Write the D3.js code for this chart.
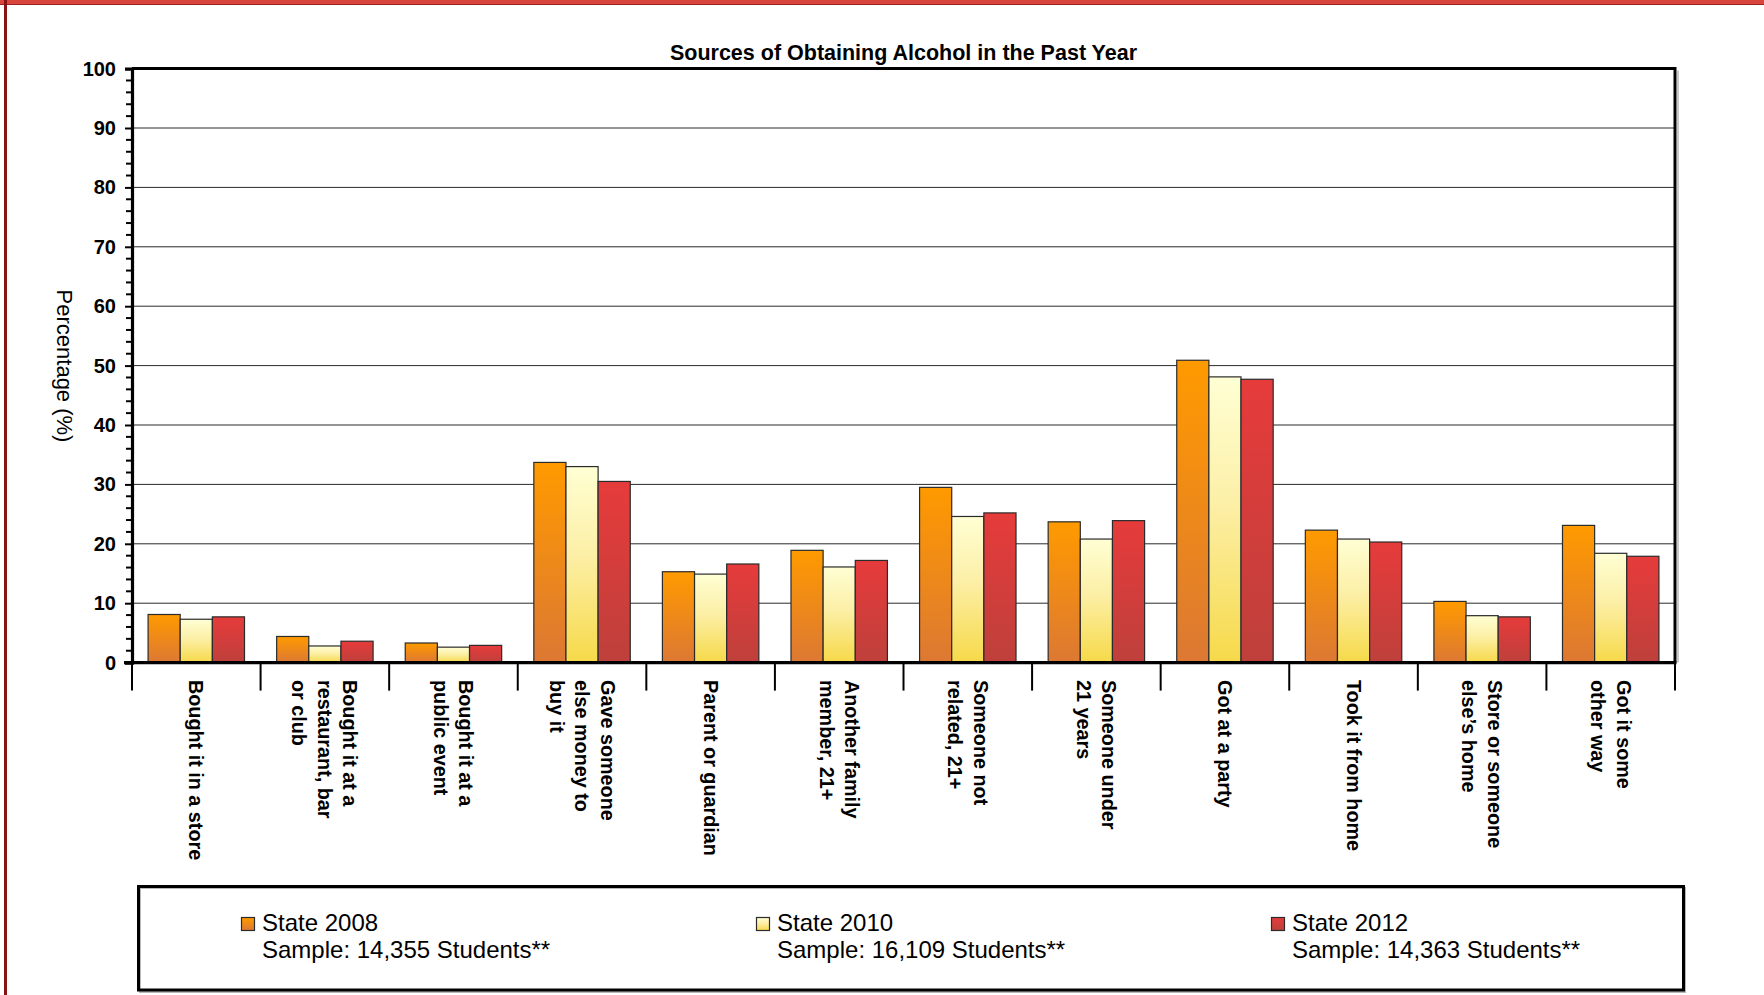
<!DOCTYPE html>
<html>
<head>
<meta charset="utf-8">
<script src="https://cdn.jsdelivr.net/npm/d3@7"></script>
<style>
  html, body { margin: 0; padding: 0; background: #fff; }
  svg { display: block; }
</style>
</head>
<body>
<svg id="chart" width="1764" height="995"></svg>
<script>
// ---- Data ----
const categories = [
  ["Bought it in a store"],
  ["Bought it at a", "restaurant, bar", "or club"],
  ["Bought it at a", "public event"],
  ["Gave someone", "else money to", "buy it"],
  ["Parent or guardian"],
  ["Another family", "member, 21+"],
  ["Someone not", "related, 21+"],
  ["Someone under", "21 years"],
  ["Got at a party"],
  ["Took it from home"],
  ["Store or someone", "else\u2019s home"],
  ["Got it some", "other way"]
];
const seriesNames = ["State 2008", "State 2010", "State 2012"];
const sampleLabels = ["Sample: 14,355 Students**", "Sample: 16,109 Students**", "Sample: 14,363 Students**"];
const values2008 = [8.1, 4.4, 3.3, 33.7, 15.3, 18.9, 29.5, 23.7, 50.9, 22.3, 10.3, 23.1];
const values2010 = [7.3, 2.8, 2.6, 33.0, 14.9, 16.1, 24.6, 20.8, 48.1, 20.8, 7.9, 18.4];
const values2012 = [7.7, 3.6, 2.9, 30.5, 16.6, 17.2, 25.2, 23.9, 47.7, 20.3, 7.7, 17.9];
const yTicks = [0, 10, 20, 30, 40, 50, 60, 70, 80, 90, 100];
const chartTitle = "Sources of Obtaining Alcohol in the Past Year";
const yTitle = "Percentage (%)";

const seriesValues = [values2008, values2010, values2012];

// ---- Layout ----
const svg = d3.select("#chart");
const font = "'Liberation Sans', Arial, Helvetica, sans-serif";
const plot = { left: 132, right: 1675, top: 68.6, bottom: 662.6 };

// gradients
const gradStops = [
  [["0%", "#FF9A00"], ["100%", "#DC7833"]],
  [["0%", "#FFFFD4"], ["45%", "#FCEFA6"], ["100%", "#F6D949"]],
  [["0%", "#E63B3B"], ["100%", "#BE403B"]]
];
const defs = svg.append("defs");
gradStops.forEach((stops, i) => {
  const g = defs.append("linearGradient").attr("id", "grad" + i)
    .attr("x1", 0).attr("y1", 0).attr("x2", 0).attr("y2", 1);
  stops.forEach(s => g.append("stop").attr("offset", s[0]).attr("stop-color", s[1]));
});

// page frame
svg.append("rect").attr("x", 0).attr("y", 0).attr("width", 1764).attr("height", 4.5).attr("fill", "#D8453D");
svg.append("line").attr("x1", 0).attr("x2", 1764).attr("y1", 4.5).attr("y2", 4.5).attr("stroke", "#9A2222").attr("stroke-width", 1);
svg.append("rect").attr("x", 4).attr("y", 0).attr("width", 3).attr("height", 995).attr("fill", "#861414");

// scales
const x = d3.scaleBand().domain(d3.range(categories.length)).range([plot.left, plot.right]).paddingInner(0).paddingOuter(0);
const xs = d3.scaleBand().domain(d3.range(seriesNames.length)).range([0, x.bandwidth()]).paddingInner(0).paddingOuter(0.5);
const y = d3.scaleLinear().domain([0, 100]).range([plot.bottom, plot.top]);

// gridlines
svg.append("g").selectAll("line").data(yTicks.filter(t => t > 0 && t < 100)).join("line")
  .attr("x1", plot.left).attr("x2", plot.right)
  .attr("y1", d => y(d)).attr("y2", d => y(d))
  .attr("stroke", "#2a2a2a").attr("stroke-width", 1);

// bars
const groups = svg.append("g").selectAll("g").data(categories).join("g")
  .attr("transform", (d, i) => `translate(${x(i)},0)`);
groups.selectAll("rect").data((d, i) => seriesValues.map((vals, s) => ({ s, v: vals[i] }))).join("rect")
  .attr("x", d => xs(d.s))
  .attr("width", xs.bandwidth())
  .attr("y", d => y(d.v))
  .attr("height", d => y(0) - y(d.v))
  .attr("fill", d => `url(#grad${d.s})`)
  .attr("stroke", "#2b2b2b").attr("stroke-width", 1.2);

// plot border shadow (right)
svg.append("line").attr("x1", plot.right + 3).attr("x2", plot.right + 3).attr("y1", plot.top + 2).attr("y2", plot.bottom)
  .attr("stroke", "#c8c8c8").attr("stroke-width", 2);

// top & right border
svg.append("path")
  .attr("d", `M${plot.left},${plot.top}H${plot.right}V${plot.bottom}`)
  .attr("fill", "none").attr("stroke", "#000").attr("stroke-width", 3);

// Y axis
const yAxis = d3.axisLeft(y).tickValues(yTicks).tickSize(7).tickPadding(9).tickFormat(d3.format("d"));
const yg = svg.append("g").attr("transform", `translate(${plot.left},0)`).call(yAxis);
yg.select(".domain").attr("stroke", "#000").attr("stroke-width", 3.2);
yg.selectAll(".tick line").attr("stroke", "#000").attr("stroke-width", 2);
yg.selectAll(".tick text").attr("font-family", font).attr("font-size", 20).attr("font-weight", "bold").attr("fill", "#000");
// minor ticks
svg.append("g").selectAll("line").data(d3.range(2, 100, 2).filter(v => v % 10 !== 0)).join("line")
  .attr("x1", plot.left - 6).attr("x2", plot.left)
  .attr("y1", d => y(d)).attr("y2", d => y(d))
  .attr("stroke", "#000").attr("stroke-width", 2);

// X axis (category separators)
svg.append("g").selectAll("line").data(d3.range(categories.length + 1)).join("line")
  .attr("x1", i => i < categories.length ? x(i) : plot.right)
  .attr("x2", i => i < categories.length ? x(i) : plot.right)
  .attr("y1", plot.bottom).attr("y2", plot.bottom + 28)
  .attr("stroke", "#000").attr("stroke-width", 2);
svg.append("line").attr("x1", plot.left - 8).attr("x2", plot.right + 1.5)
  .attr("y1", plot.bottom).attr("y2", plot.bottom)
  .attr("stroke", "#000").attr("stroke-width", 3.2);

// category labels (rotated)
const lh = 25.5, catFs = 19.8;
const labels = svg.append("g").selectAll("text").data(categories).join("text")
  .attr("transform", (d, i) => `translate(${x(i) + x.bandwidth() / 2},680) rotate(90)`)
  .attr("font-family", font).attr("font-size", catFs).attr("font-weight", "bold").attr("fill", "#000");
labels.each(function (lines) {
  const t = d3.select(this);
  const n = lines.length;
  lines.forEach((ln, k) => {
    t.append("tspan").attr("x", 0).attr("y", (k - (n - 1) / 2) * lh + 0.35 * catFs).text(ln);
  });
});

// title
svg.append("text").attr("x", (plot.left + plot.right) / 2).attr("y", 59.5)
  .attr("text-anchor", "middle").attr("font-family", font).attr("font-size", 21.5).attr("font-weight", "bold")
  .attr("fill", "#000").text(chartTitle);

// y title
svg.append("text").attr("transform", "translate(56.5,366) rotate(90)")
  .attr("text-anchor", "middle").attr("font-family", font).attr("font-size", 22)
  .attr("fill", "#000").text(yTitle);

// legend
const lg = svg.append("g");
lg.append("rect").attr("x", 140).attr("y", 888).attr("width", 1545).attr("height", 104)
  .attr("fill", "none").attr("stroke", "#b8b8b8").attr("stroke-width", 2);
lg.append("rect").attr("x", 138.5).attr("y", 886.5).attr("width", 1545).attr("height", 103.5)
  .attr("fill", "none").attr("stroke", "#000").attr("stroke-width", 3);
const legX = d3.scalePoint().domain(d3.range(seriesNames.length)).range([262, 1292]);
const items = lg.selectAll("g.item").data(seriesNames).join("g").attr("class", "item")
  .attr("transform", (d, i) => `translate(${legX(i)},0)`);
items.append("rect").attr("x", -20.5).attr("y", 917.5).attr("width", 13).attr("height", 13)
  .attr("fill", (d, i) => `url(#grad${i})`).attr("stroke", "#2b2b2b").attr("stroke-width", 1.2);
items.append("text").attr("x", 0).attr("y", 931).attr("font-family", font).attr("font-size", 24)
  .attr("fill", "#000").text(d => d);
items.append("text").attr("x", 0).attr("y", 958).attr("font-family", font).attr("font-size", 24)
  .attr("fill", "#000").text((d, i) => sampleLabels[i]);
</script>
</body>
</html>
